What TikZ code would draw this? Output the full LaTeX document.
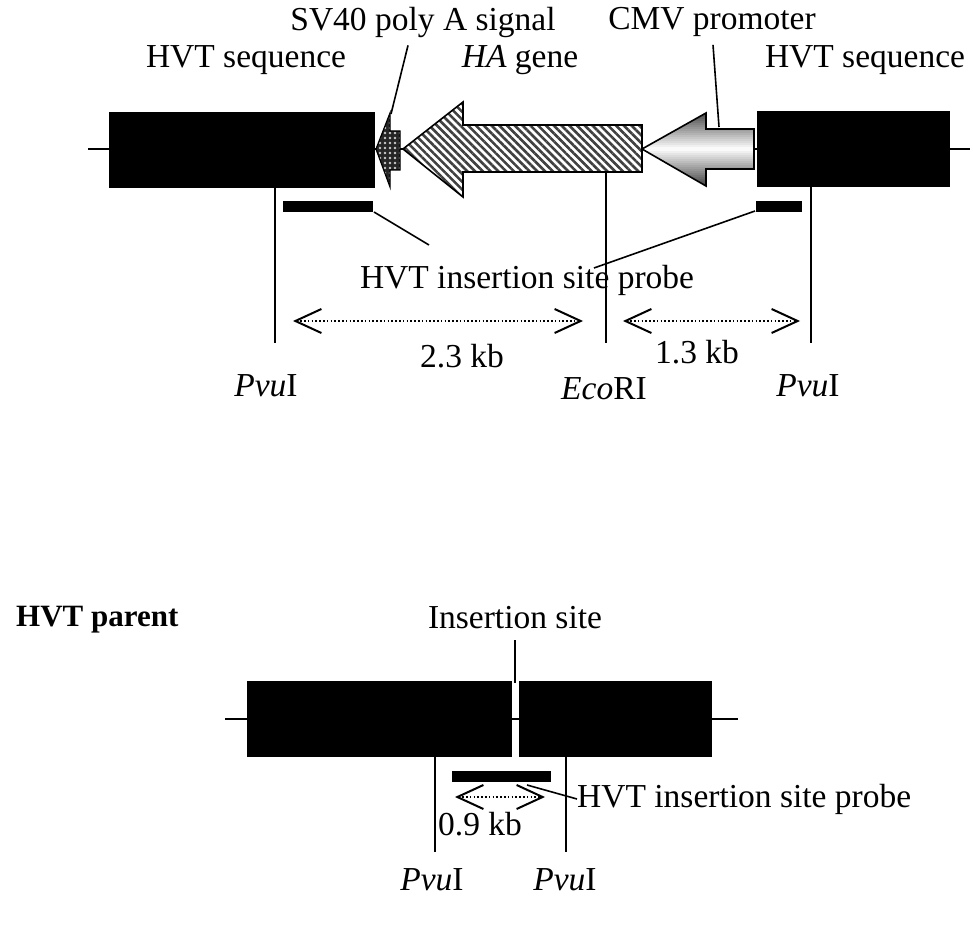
\documentclass[tikz,border=0pt]{standalone}
\usepackage{fontspec}
\setmainfont{Liberation Serif}
\usepackage{tikz}
\usetikzlibrary{
  arrows.meta,   % open chevron tips on the distance arrows
  patterns.meta  % hatching and dots inside the gene arrows
}

\tikzset{
  lbl/.style={inner sep=0pt, font=\fontsize{33.5}{38}\selectfont},
  thin line/.style={line width=1.6pt},
  span/.style={line width=2pt, dash pattern=on 1.6pt off 2.2pt,
    {Straight Barb[length=26pt,width=24pt,line width=2pt]}-{Straight Barb[length=26pt,width=24pt,line width=2pt]}}
}

\begin{document}
\begin{tikzpicture}[x=1pt, y=-1pt]
    \useasboundingbox (0,0) rectangle (973,933);

    % ---------- recombinant HVT ----------

    % Backbone
    \draw[thin line] (88,149) -- (970,149);

    % HVT flanking sequences
    \fill (109,112) rectangle (375,188);
    \fill (757,111) rectangle (950,187);

    % SV40 poly A arrow (dotted fill)
    \fill[black!85] (376,149) -- (390,113) -- (390,131) -- (400,131) -- (400,170)
        -- (390,170) -- (390,187) -- cycle;
    \pattern[pattern={Dots[distance=5pt,radius=1.3pt]}, pattern color=white!80!black]
        (376,149) -- (390,113) -- (390,131) -- (400,131) -- (400,170)
        -- (390,170) -- (390,187) -- cycle;
    \draw[line width=1.2pt] (376,149) -- (390,113) -- (390,131) -- (400,131) -- (400,170)
        -- (390,170) -- (390,187) -- cycle;

    % HA gene arrow (hatched)
    \fill[white] (403,149) -- (463,102) -- (463,125) -- (642,125) -- (642,172)
        -- (463,172) -- (463,197) -- cycle;
    \pattern[pattern={Lines[angle=-45,distance=5.5pt,line width=2.6pt]}, pattern color=black!75]
        (403,149) -- (463,102) -- (463,125) -- (642,125) -- (642,172)
        -- (463,172) -- (463,197) -- cycle;
    \draw[line width=1.6pt] (403,149) -- (463,102) -- (463,125) -- (642,125) -- (642,172)
        -- (463,172) -- (463,197) -- cycle;

    % CMV promoter arrow (grey to white, strip by strip)
    \begin{scope}
        \clip (642,149) -- (706,113) -- (706,129) -- (754,129) -- (754,169)
            -- (706,169) -- (706,186) -- cycle;
        \foreach \k in {0,...,38} {
            \pgfmathsetmacro{\ytop}{111+2*\k}
            \pgfmathsetmacro{\shadepct}{int(min(72,75*abs(\ytop+1-149)/37))}
            \fill[black!\shadepct] (640,\ytop) rectangle (756,\ytop+2.2);
        }
    \end{scope}
    \draw[line width=1.6pt] (642,149) -- (706,113) -- (706,129) -- (754,129) -- (754,169)
        -- (706,169) -- (706,186) -- cycle;

    % Labels above
    \node[lbl] (sv40) at (423,22) {SV40 poly A signal};
    \node[lbl] (cmv) at (712,22) {CMV promoter};
    \node[lbl] (hvtL) at (246,60) {HVT sequence};
    \node[lbl] (ha) at (520,60) {\textit{HA} gene};
    \node[lbl] (hvtR) at (865,60) {HVT sequence};
    \coordinate (svTip) at (391,114);
    \coordinate (cmvTip) at (719,127);
    \draw[thin line] (sv40.south) ++(-15,8) coordinate (svTop) (svTop) -- (svTip);
    \draw[thin line] (cmv.south) ++(1,8) coordinate (cmvTop) (cmvTop) -- (cmvTip);

    % Probe bars
    \fill (283,201) rectangle (373,212);
    \fill (756,201) rectangle (802,212);
    \coordinate (barL) at (374,212);
    \coordinate (barR) at (755,211);
    \node[lbl] (probeTop) at (527,280) {HVT insertion site probe};
    \draw[thin line] (barL) -- (429,245);
    \draw[thin line] (barR) -- (594,268);

    % Restriction sites
    \draw[thin line] (275,188) -- (275,343);
    \draw[thin line] (606,172) -- (606,343);
    \draw[thin line] (811,187) -- (811,343);

    % Fragment sizes
    \coordinate (aL) at (293,321);
    \coordinate (aR) at (583,321);
    \coordinate (bL) at (623,321);
    \coordinate (bR) at (800,321);
    \draw[span] (aL) -- (aR);
    \draw[span] (bL) -- (bR);
    \node[lbl] (kbA) at (462,356) {2.3 kb};
    \node[lbl] (kbB) at (697,352) {1.3 kb};
    \node[lbl] (pvuL) at (266,386) {\textit{Pvu}I};
    \node[lbl] (eco) at (604,389) {\textit{Eco}RI};
    \node[lbl] (pvuR) at (808,386) {\textit{Pvu}I};

    % ---------- HVT parent ----------
    \node[lbl, anchor=west, font=\fontsize{31}{36}\selectfont\bfseries] (parent) at (16,620) {HVT parent};

    % Insertion site
    \node[lbl] (ins) at (515,618) {Insertion site};
    \draw[thin line] (515,640) -- (515,683);

    % Backbone and HVT sequences
    \draw[thin line] (225,719) -- (738,719);
    \fill (247,681) rectangle (512,757);
    \fill (519,681) rectangle (712,757);

    % Probe bar
    \fill (452,771) rectangle (551,782);
    \node[lbl, anchor=west] (probeBot) at (577,799) {HVT insertion site probe};
    \draw[thin line] (527,785) -- (probeBot.west);

    % PvuI sites
    \draw[thin line] (435,757) -- (435,852);
    \draw[thin line] (566,757) -- (566,852);
    \coordinate (cL) at (455,797);
    \coordinate (cR) at (545,797);
    \draw[span] (cL) -- (cR);
    \node[lbl] (kbC) at (480,824) {0.9 kb};
    \node[lbl] (pvuBL) at (432,880) {\textit{Pvu}I};
    \node[lbl] (pvuBR) at (565,880) {\textit{Pvu}I};
\end{tikzpicture}
\end{document}
